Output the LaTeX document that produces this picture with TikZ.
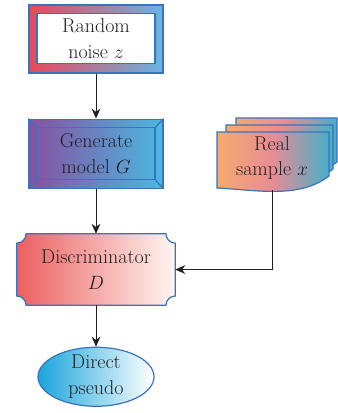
\documentclass[tikz,border=0pt]{standalone}
\usepackage{fontspec}
\usetikzlibrary{positioning, arrows.meta, shapes.geometric, calc, backgrounds}
\definecolor{linecolor}{RGB}{55,115,190}
\definecolor{textcolor}{RGB}{35,31,32}
\definecolor{noisered}{RGB}{232,72,92}
\definecolor{noiseblue}{RGB}{105,180,225}
\definecolor{genpurple}{RGB}{135,80,160}
\definecolor{gencyan}{RGB}{75,185,225}
\definecolor{discred}{RGB}{235,95,95}
\definecolor{discwhite}{RGB}{255,246,242}
\definecolor{realorange}{RGB}{245,170,110}
\definecolor{realpink}{RGB}{232,140,150}
\definecolor{realteal}{RGB}{70,175,200}
\definecolor{outcyan}{RGB}{25,165,220}

\begin{document}
\begin{tikzpicture}[x=0.75pt, y=-0.75pt,
    txt/.style={align=center, font=\fontsize{15}{19}\selectfont, text=textcolor, inner sep=0pt},
    edge/.style={draw=linecolor, line width=0.9pt},
    arrow/.style={-{Stealth[length=7.5pt, width=6.5pt]}, draw=textcolor, line width=0.7pt},
]
\useasboundingbox (0,0) rectangle (337,413);

% ============ noise ============
\node[edge, left color=noisered, right color=noiseblue, minimum width=100.5pt, minimum height=51pt] (noise) at (96,39) {};
\node[edge, fill=white, txt, minimum width=88.5pt, minimum height=38pt] (noise_in) at (96,38.5) {Random\\noise $z$};

% ============ generator ============
\node[edge, left color=genpurple, right color=gencyan, minimum width=100.5pt, minimum height=51.75pt, below=33.75pt of noise] (gen) {};
\node[edge, txt, minimum width=88.5pt, minimum height=39pt] (gen_in) at (gen) {Generate\\model $G$};
\draw[edge] (gen.north west) -- (gen_in.north west);
\draw[edge] (gen.north east) -- (gen_in.north east);
\draw[edge] (gen.south west) -- (gen_in.south west);
\draw[edge] (gen.south east) -- (gen_in.south east);

% ============ discriminator ============
\node[txt, minimum width=118.5pt, minimum height=53.25pt, below=33.75pt of gen] (disc) {Discriminator\\$D$};

% ============ real sample ============
\node[txt, minimum width=84pt, minimum height=48pt] (real) at (272,158) {Real\\sample $x$};

% ============ output ============
\node[ellipse, edge, left color=outcyan, right color=white, txt, inner sep=-3pt, minimum width=87pt, minimum height=44.25pt, below=31pt of disc] (out) {Direct\\pseudo};

% ============ arrows ============
\draw[arrow] (noise) -- (gen);
\draw[arrow] (gen) -- (disc);
\draw[arrow] (disc) -- (out);
\draw[arrow] (real.south) |- (disc.east);

% ============ shapes ============
\begin{pgfonlayer}{background}
    \path[edge, left color=discred, right color=discwhite]
        ($(disc.north west)+(7pt,0)$) -- ($(disc.north east)+(-7pt,0)$)
        arc[start angle=180, end angle=270, radius=7pt]
        -- ($(disc.south east)+(0,7pt)$)
        arc[start angle=90, end angle=180, radius=7pt]
        -- ($(disc.south west)+(7pt,0)$)
        arc[start angle=0, end angle=90, radius=7pt]
        -- ($(disc.north west)+(0,-7pt)$)
        arc[start angle=270, end angle=360, radius=7pt]
        -- cycle;
    \foreach \l/\t/\w in {236/118/101, 226/125/107, 217/132/112}
        \path[edge, left color=realorange, right color=realteal, middle color=realpink]
            (\l,\t) -- ++(\w,0) -- ++(0,44) .. controls +(-30,23) and +(40,2) .. (\l,\t+56) -- cycle;
\end{pgfonlayer}

\end{tikzpicture}
\end{document}
